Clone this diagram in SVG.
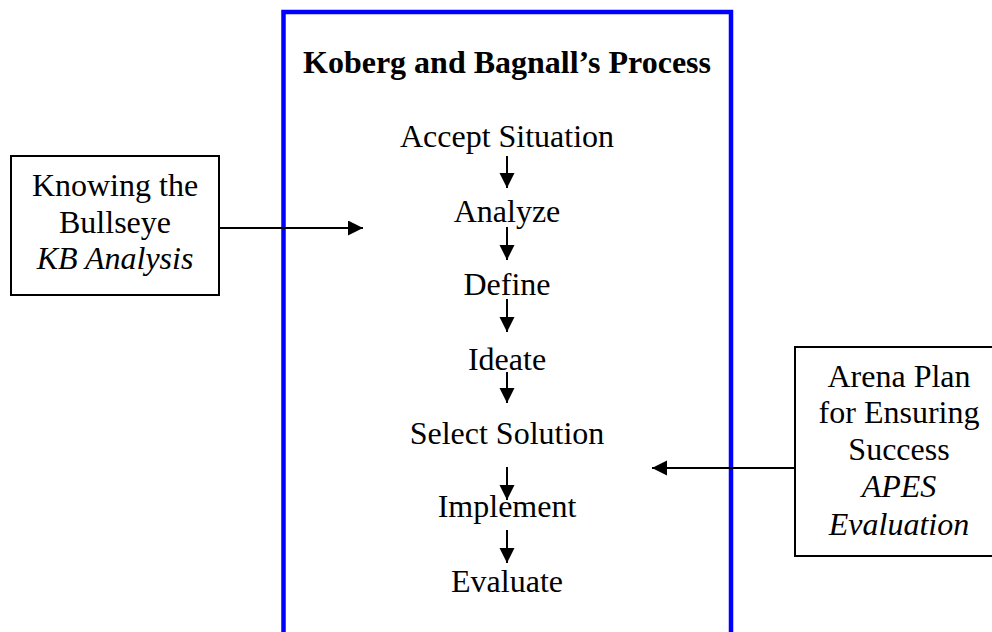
<svg xmlns="http://www.w3.org/2000/svg" width="992" height="632" viewBox="0 0 992 632">
<style>
  text { font-family: "Liberation Serif", "Times New Roman", serif; font-size: 32px; fill: #000; text-anchor: middle; }
  .title { font-weight: bold; }
  .it { font-style: italic; }
  .box { fill: #fff; stroke: #000; stroke-width: 2; }
  .frame { fill: none; stroke: #0000ff; stroke-width: 4.5; }
  .conn { stroke: #000; stroke-width: 2; fill: none; marker-end: url(#ah); }
</style>
<defs>
  <marker id="ah" markerUnits="userSpaceOnUse" markerWidth="16" markerHeight="16" refX="15" refY="7.5" orient="auto">
    <path d="M0,0 L15,7.5 L0,15 z" fill="#000"/>
  </marker>
</defs>
<rect width="992" height="632" fill="#fff"/>
<g id="process">
  <rect class="frame" x="283.5" y="12" width="447.5" height="700"/>
  <text class="title" x="507" y="73">Koberg and Bagnall’s Process</text>
</g>
<g id="accept"><text x="507" y="147">Accept Situation</text></g>
<g id="analyze"><text x="507" y="222">Analyze</text></g>
<g id="define"><text x="507" y="295">Define</text></g>
<g id="ideate"><text x="507" y="370">Ideate</text></g>
<g id="select"><text x="507" y="444">Select Solution</text></g>
<g id="implement"><text x="507" y="517">Implement</text></g>
<g id="evaluate"><text x="507" y="592">Evaluate</text></g>
<g id="bullseye">
  <rect class="box" x="11" y="156" width="208" height="139"/>
  <text x="115" y="196">Knowing the</text>
  <text x="115" y="233">Bullseye</text>
  <text class="it" x="115" y="269">KB Analysis</text>
</g>
<g id="apes">
  <rect class="box" x="795" y="347" width="210" height="209"/>
  <text x="899" y="387">Arena Plan</text>
  <text x="899" y="423">for Ensuring</text>
  <text x="899" y="460">Success</text>
  <text class="it" x="899" y="497">APES</text>
  <text class="it" x="899" y="535">Evaluation</text>
</g>
<g id="connectors">
  <line class="conn" x1="507" y1="156" x2="507" y2="188"/>
  <line class="conn" x1="507" y1="227" x2="507" y2="260"/>
  <line class="conn" x1="507" y1="299" x2="507" y2="332"/>
  <line class="conn" x1="507" y1="372" x2="507" y2="403"/>
  <line class="conn" x1="507" y1="467" x2="507" y2="500"/>
  <line class="conn" x1="507" y1="530" x2="507" y2="563"/>
  <line class="conn" x1="219" y1="228" x2="363" y2="228"/>
  <line class="conn" x1="795" y1="468" x2="652" y2="468"/>
</g>
</svg>
